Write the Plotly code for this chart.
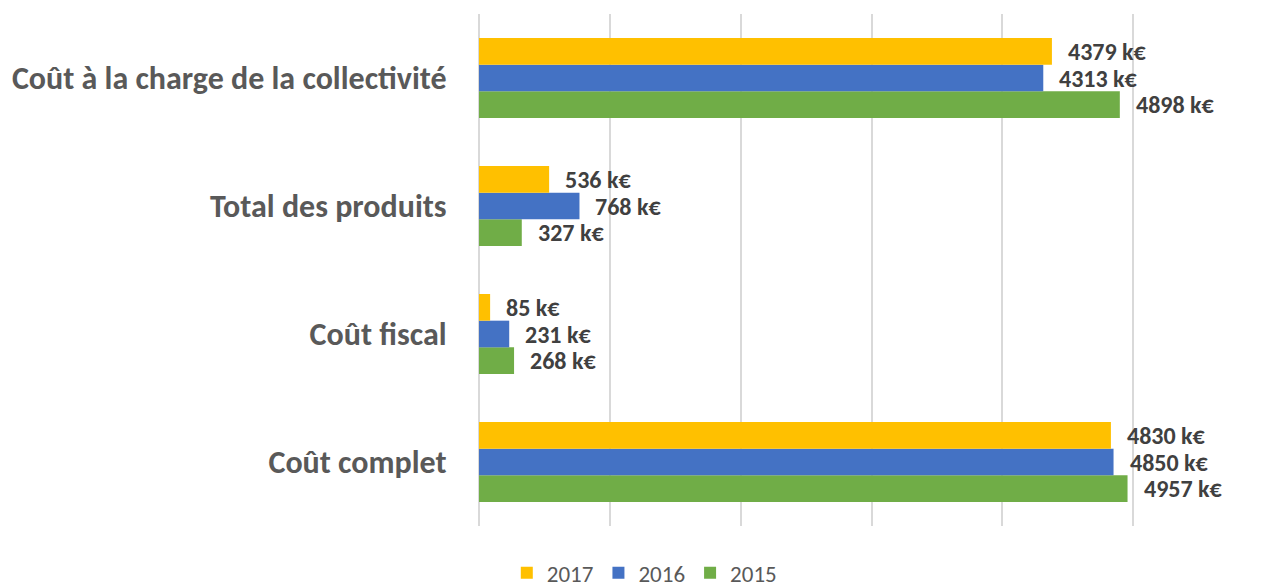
import plotly.graph_objects as go

# catégories (de bas en haut dans plotly)
categories = ["Coût complet", "Coût fiscal", "Total des produits", "Coût à la charge de la collectivité"]
annees = ["2015", "2016", "2017"]
v2015 = [4957, 268, 327, 4898]
v2016 = [4850, 231, 768, 4313]
v2017 = [4830, 85, 536, 4379]
couleurs = {"2015": "#70AD47", "2016": "#4472C4", "2017": "#FFC000"}

series = {"2015": v2015, "2016": v2016, "2017": v2017}
decalage = {"2015": -26.7, "2016": 0, "2017": 26.7}

police = "Carlito, Calibri, Lato, sans-serif"

fig = go.Figure()
for an in annees:
    fig.add_trace(go.Bar(
        name=an,
        x=series[an],
        y=categories,
        orientation="h",
        marker=dict(color=couleurs[an], line=dict(width=0)),
        hoverinfo="x+name",
    ))

# étiquettes de valeurs
for an in annees:
    for cat, val in zip(categories, series[an]):
        fig.add_annotation(
            x=val, y=cat, text=f"<b>{val} k€</b>", showarrow=False,
            xanchor="left", yanchor="middle", xshift=14, yshift=decalage[an],
            font=dict(family=police, size=24, color="#404040"),
        )

# la page ajoute une marge de 8 px autour du graphique
fig.update_layout(
    barmode="group",
    bargap=0.375,
    bargroupgap=0,
    width=1260, height=580,
    margin=dict(l=467, r=4, t=6, b=62),
    plot_bgcolor="white",
    paper_bgcolor="white",
    font=dict(family=police, color="#595959"),
    legend=dict(
        orientation="h", traceorder="reversed",
        xref="container", yref="container",
        x=0.505, y=0.026, xanchor="center", yanchor="middle",
        font=dict(size=23, color="#595959"),
    ),
    xaxis=dict(
        range=[0, 6000], dtick=1000, showticklabels=False,
        showgrid=True, gridcolor="#D9D9D9", gridwidth=1.5,
        zeroline=True, zerolinecolor="#D9D9D9", zerolinewidth=1.5,
        fixedrange=True,
    ),
    yaxis=dict(
        showgrid=False,
        ticks="outside", ticklen=25, tickcolor="rgba(0,0,0,0)",
        tickfont=dict(family=police, size=32, color="#595959", weight="bold"),
    ),
)

fig.write_html("out.html")
